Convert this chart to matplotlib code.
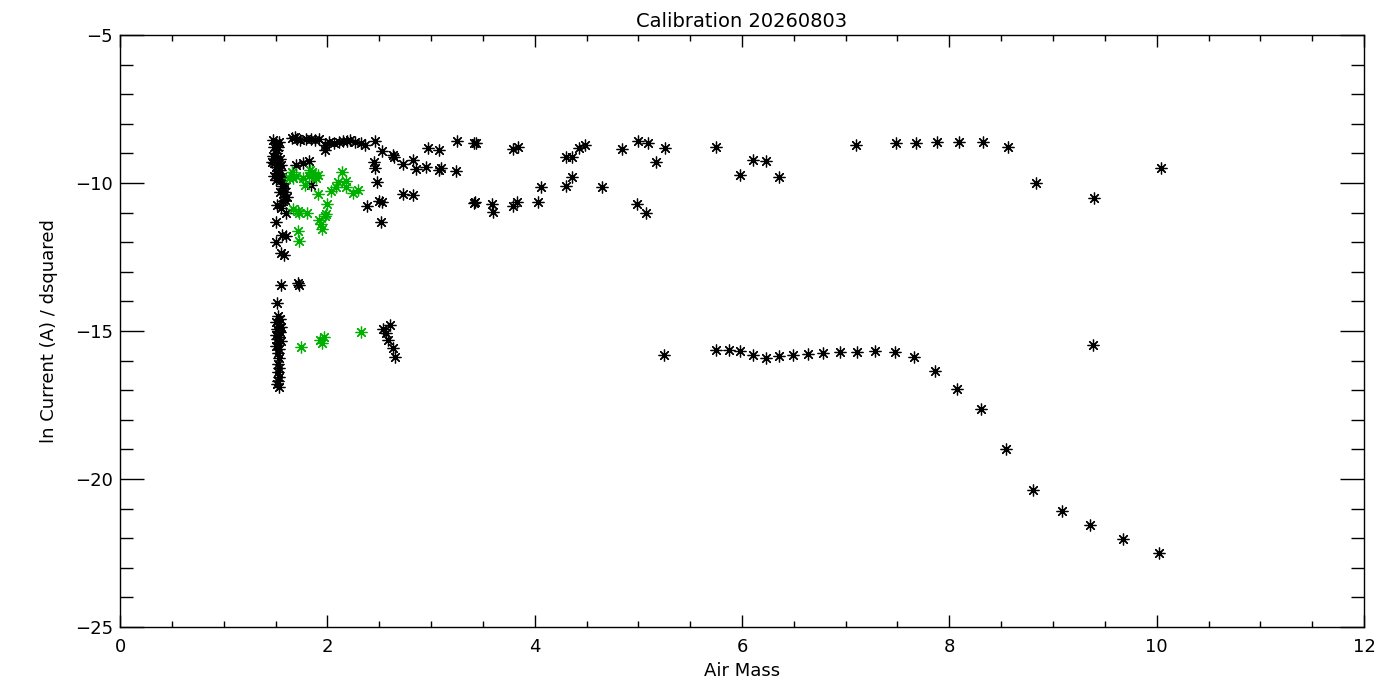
import numpy as np
import matplotlib
matplotlib.use("Agg")
import matplotlib.pyplot as plt
from matplotlib.ticker import MultipleLocator

plt.rcParams.update({"font.family": "DejaVu Sans", "font.size": 13})

TITLE = "Calibration 20260803"

# black points: air mass / ln current
black_x = [
    # lower cluster near 1.5
    1.51, 1.52, 1.54, 1.50, 1.53, 1.55, 1.51, 1.52, 1.54, 1.50, 1.53, 1.51, 1.55, 1.52, 1.50,
    1.53, 1.52, 1.53, 1.52, 1.53, 1.52, 1.53, 1.52, 1.51, 1.53,
    2.54, 2.60, 2.57, 2.59, 2.63, 2.65,
    # upper column near 1.5
    1.48, 1.50, 1.49, 1.51, 1.50, 1.48, 1.51, 1.49, 1.50, 1.52, 1.51, 1.49, 1.50, 1.54, 1.56,
    1.55, 1.58, 1.58, 1.59, 1.61, 1.59, 1.51, 1.55, 1.60, 1.50, 1.56, 1.60, 1.50, 1.55, 1.58,
    1.55, 1.72, 1.73, 1.53, 1.54, 1.53, 1.56, 1.54, 1.47, 1.52, 1.55, 1.57,
    # top row
    1.66, 1.69, 1.71, 1.74, 1.79, 1.84, 1.88, 1.92, 1.98, 1.98, 2.02, 2.06, 2.11, 2.15, 2.19,
    2.22, 2.27, 2.32, 2.36, 2.46, 1.70, 1.77, 1.82, 1.84,
    # middle
    2.53, 2.63, 2.64, 2.73, 2.83, 2.86, 2.95, 2.97, 3.08, 3.10, 3.08, 3.24, 3.25, 3.41, 3.43,
    3.79, 3.84, 4.30, 4.36, 4.43, 4.49, 4.84, 5.00, 5.09, 5.26, 5.17, 2.45, 2.46, 2.48, 4.36,
    4.30, 4.06, 4.65, 2.73, 2.83, 2.50, 2.53, 2.38, 2.52, 3.41, 3.42, 3.59, 3.60, 3.79, 3.83,
    4.03, 4.99, 5.07,
    # right, upper band
    5.75, 5.98, 6.11, 6.23, 6.36, 7.10, 7.49, 7.68, 7.88, 8.09, 8.32, 8.57, 8.84, 9.40, 10.04,
    # right, lower band
    5.25, 5.75, 5.87, 5.98, 6.11, 6.23, 6.36, 6.49, 6.64, 6.78, 6.95, 7.11, 7.28, 7.48, 7.66,
    7.86, 8.07, 8.31, 8.55, 8.81, 9.09, 9.36, 9.68, 10.02, 9.39,
]
black_y = [
    -14.06, -14.5, -14.6, -14.7, -14.78, -14.85, -14.92, -15.0, -15.05, -15.12, -15.2, -15.28,
    -15.33, -15.42, -15.5, -15.6, -15.75, -15.9, -16.1, -16.25, -16.4, -16.55, -16.7, -16.8, -16.9,
    -14.94, -14.80, -15.08, -15.30, -15.58, -15.87,
    -8.55, -8.65, -8.77, -8.9, -9.0, -9.1, -9.22, -9.33, -9.45, -9.55, -9.67, -9.78, -9.9, -9.56,
    -9.79, -9.9, -10.01, -10.18, -10.29, -10.46, -10.57, -10.74, -10.86, -11.02, -11.31, -11.76,
    -11.79, -11.98, -12.38, -12.43, -13.45, -13.39, -13.45, -8.6, -9.2, -9.8, -10.1, -10.3,
    -9.3, -8.8, -9.4, -10.6,
    -8.49, -8.43, -8.5, -8.55, -8.5, -8.52, -8.55, -8.5, -8.71, -8.89, -8.62, -8.64, -8.6, -8.58,
    -8.57, -8.55, -8.6, -8.66, -8.7, -8.58, -9.39, -9.33, -9.27, -10.07,
    -8.92, -9.05, -9.11, -9.37, -9.22, -9.53, -9.45, -8.81, -8.89, -9.48, -9.56, -9.58, -8.58,
    -8.66, -8.64, -8.85, -8.79, -9.13, -9.13, -8.83, -8.72, -8.85, -8.58, -8.66, -8.81, -9.30,
    -9.30, -9.50, -9.98, -9.81, -10.10, -10.15, -10.15, -10.38, -10.41, -10.61, -10.65, -10.78,
    -11.33, -10.69, -10.65, -10.71, -10.99, -10.78, -10.65, -10.65, -10.71, -11.02,
    -8.78, -9.73, -9.22, -9.26, -9.80, -8.72, -8.65, -8.65, -8.61, -8.61, -8.61, -8.78, -10.0,
    -10.51, -9.49,
    -15.81, -15.64, -15.64, -15.68, -15.81, -15.91, -15.84, -15.81, -15.78, -15.74, -15.71,
    -15.71, -15.68, -15.71, -15.88, -16.35, -16.96, -17.62, -18.99, -20.37, -21.07, -21.55,
    -22.03, -22.5, -15.47,
]

# green points
green_x = [
    1.66, 1.63, 1.67, 1.70, 1.77, 1.82, 1.83, 1.85, 1.88, 1.91, 1.89, 1.78, 1.91, 2.00, 2.04,
    2.08, 2.10, 2.14, 2.18, 2.18, 2.25, 2.30, 1.67, 1.72, 1.73, 1.80, 1.92, 1.94, 1.95, 1.98,
    1.99, 1.72, 1.73,
    1.75, 1.95, 1.97, 1.93, 2.32,
]
green_y = [
    -9.62, -9.84, -9.84, -9.78, -9.84, -9.78, -9.56, -9.62, -9.78, -9.73, -9.84, -10.07, -10.37,
    -10.71, -10.26, -10.12, -9.95, -9.62, -9.93, -10.15, -10.35, -10.22, -10.89, -10.93, -11.02,
    -11.02, -11.25, -11.39, -11.56, -11.10, -11.05, -11.61, -11.95,
    -15.53, -15.42, -15.19, -15.30, -15.02,
]

fig = plt.figure(figsize=(14, 7), dpi=100)
ax = fig.add_axes([120 / 1400, 1 - 627 / 700, 1244 / 1400, 592 / 700])

star = (8, 2, 0)
ax.plot(black_x, black_y, ls="none", marker=star, ms=8.5, mew=0.9, color="black")
ax.plot(green_x, green_y, ls="none", marker=star, ms=8.5, mew=0.9, color="#00b000")

ax.set_xlim(0, 12)
ax.set_ylim(-25, -5)
ax.xaxis.set_major_locator(MultipleLocator(2))
ax.xaxis.set_minor_locator(MultipleLocator(0.5))
ax.yaxis.set_major_locator(MultipleLocator(5))
ax.yaxis.set_minor_locator(MultipleLocator(1))
ax.tick_params(axis="both", which="both", direction="in", top=True, right=True, width=1.0,
               color="black", labelsize=13)
ax.tick_params(axis="x", which="major", length=8.6, pad=8)
ax.tick_params(axis="x", which="minor", length=4)
ax.tick_params(axis="y", which="major", length=17.3, pad=5)
ax.tick_params(axis="y", which="minor", length=9.1)
for s in ax.spines.values():
    s.set_linewidth(1.0)

ax.set_title(TITLE, fontsize=14, pad=6)
ax.set_xlabel("Air Mass", fontsize=13, labelpad=4)
ax.set_ylabel("ln Current (A) / dsquared", fontsize=13, labelpad=12)

fig.savefig("out.png", dpi=100)
